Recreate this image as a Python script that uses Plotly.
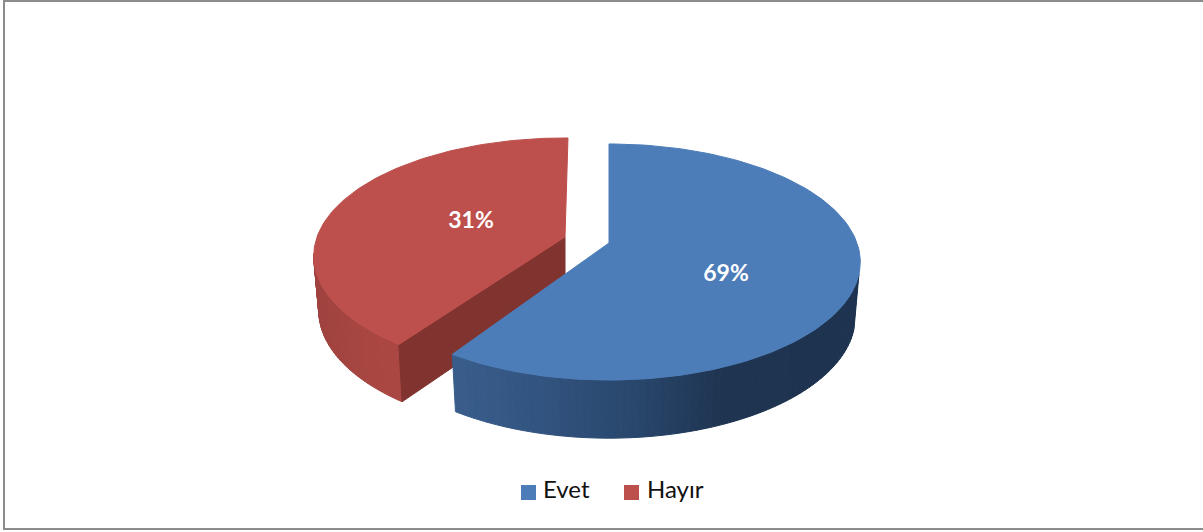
# 3D style pie chart, Evet / Hayir
import numpy as np
import plotly.graph_objects as go

categories = ["Evet", "Hayır"]
values = [69, 31]
slice_colors = ["#4C7DB9", "#BD4F4C"]

W, H = 1203, 532

# ---- view of the pie ----
# the tilted view squeezes the front of the pie, so the cut sits earlier than 0.69*360
SQUEEZE = 0.858
RX, RY, PERSP = 248, 115, 0.161
DEPTH, SIDE_SX, SIDE_SY = 54, 0.98, 1.03
BLUE_CENTER = (609, 243)
RED_CENTER = (565, 237)


def rim(center, theta):
    # theta in degrees, clockwise from the back of the pie
    t = np.radians(theta)
    u, v = np.sin(t), np.cos(t)
    w = 1 + PERSP * v
    return center[0] + RX * u / w, center[1] - RY * v / w


def base(center, theta):
    x, y = rim(center, theta)
    return center[0] + SIDE_SX * (x - center[0]), center[1] + DEPTH + SIDE_SY * (y - center[1])


def shade(x, xs, rgbs):
    rgb = [np.interp(x, xs, [c[i] for c in rgbs]) for i in range(3)]
    return "rgb(%d,%d,%d)" % tuple(rgb)


def poly(xs, ys, color):
    return go.Scatter(x=xs, y=ys, mode="lines", fill="toself", fillcolor=color,
                      line=dict(color=color, width=1), hoverinfo="skip", showlegend=False)


split = 360 * values[0] / 100 * SQUEEZE

fig = go.Figure()

# ---- red slice ----
red_start = split + 2.5
red_end = 360.8
side_theta = np.linspace(red_start, 262, 41)
for a, b in zip(side_theta[:-1], side_theta[1:]):
    xa, ya = rim(RED_CENTER, a)
    xb, yb = rim(RED_CENTER, b)
    xc, yc = base(RED_CENTER, b)
    xd, yd = base(RED_CENTER, a)
    color = shade((xa + xb) / 2, [315, 360, 400], [(160, 66, 63), (168, 70, 66), (172, 72, 68)])
    fig.add_trace(poly([xa, xb, xc, xd, xa], [ya, yb, yc, yd, ya], color))

x0, y0 = rim(RED_CENTER, red_start)
x1, y1 = base(RED_CENTER, red_start)
x2, y2 = RED_CENTER[0], RED_CENTER[1] + DEPTH
fig.add_trace(poly([RED_CENTER[0], x0, x1, x2, RED_CENTER[0]],
                   [RED_CENTER[1], y0, y1, y2, RED_CENTER[1]], "#81332F"))

theta = np.linspace(red_start, red_end, 120)
xs, ys = rim(RED_CENTER, theta)
fig.add_trace(poly([RED_CENTER[0], *xs, RED_CENTER[0]], [RED_CENTER[1], *ys, RED_CENTER[1]], slice_colors[1]))

# ---- blue slice ----
side_theta = np.linspace(105, split, 71)
for a, b in zip(side_theta[:-1], side_theta[1:]):
    xa, ya = rim(BLUE_CENTER, a)
    xb, yb = rim(BLUE_CENTER, b)
    xc, yc = base(BLUE_CENTER, b)
    xd, yd = base(BLUE_CENTER, a)
    color = shade((xa + xb) / 2, [452, 540, 640, 720, 860],
                  [(58, 94, 140), (50, 84, 128), (41, 70, 107), (31, 53, 82), (29, 51, 80)])
    fig.add_trace(poly([xa, xb, xc, xd, xa], [ya, yb, yc, yd, ya], color))

theta = np.linspace(0, split, 160)
xs, ys = rim(BLUE_CENTER, theta)
fig.add_trace(poly([BLUE_CENTER[0], *xs, BLUE_CENTER[0]], [BLUE_CENTER[1], *ys, BLUE_CENTER[1]], slice_colors[0]))

# ---- percent labels ----
fig.add_trace(go.Scatter(x=[726, 471], y=[275, 222], mode="text",
                         text=["%d%%" % v for v in values],
                         textfont=dict(family="Lato", size=23, color="white", weight="bold"),
                         hoverinfo="skip", showlegend=False))

# ---- legend, drawn by hand so the swatch sits close to the text ----
fig.add_trace(go.Scatter(x=[528.5, 631.5], y=[492.5, 492.5], mode="markers",
                         marker=dict(symbol="square", size=15, color=slice_colors),
                         hoverinfo="skip", showlegend=False))
fig.add_trace(go.Scatter(x=[543, 647], y=[492, 492], mode="text", text=categories,
                         textposition="middle right",
                         textfont=dict(family="Lato", size=24, color="#111111"),
                         hoverinfo="skip", showlegend=False))

fig.update_layout(
    width=W, height=H, margin=dict(l=0, r=0, t=0, b=0),
    paper_bgcolor="white", plot_bgcolor="white",
    xaxis=dict(range=[0, W], visible=False, fixedrange=True),
    yaxis=dict(range=[H, 0], visible=False, fixedrange=True),
    shapes=[dict(type="rect", x0=4, x1=W + 10, y0=1, y1=529,
                 line=dict(color="#8C8C8C", width=2))],
)

fig.write_html("out.html", config={"displayModeBar": False},
               post_script="document.body.style.margin='0';document.body.style.overflow='hidden';")
